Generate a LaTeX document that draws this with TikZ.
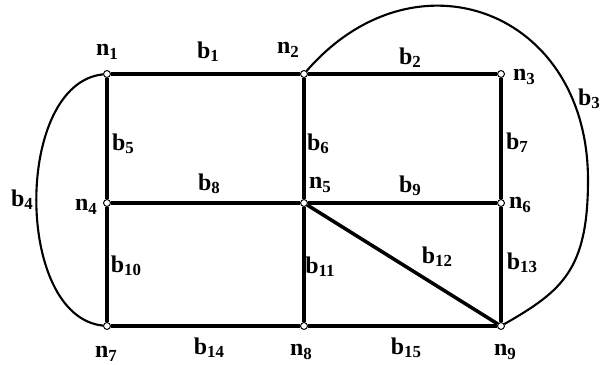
\documentclass[tikz,border=0pt]{standalone}
\usepackage{fontspec}
\setmainfont{Liberation Serif}
\usetikzlibrary{positioning}
\tikzset{
	junc/.style={circle, draw, fill=white, line width=0.6pt, inner sep=0pt, minimum size=0.17cm},
	wire/.style={line width=2.5pt},
	arcwire/.style={line width=1.5pt},
	lbl/.style={font=\fontsize{17}{20}\selectfont\bfseries, inner sep=0pt}
}
\newcommand{\idx}[2]{#1\raisebox{-0.3ex}{\fontsize{12}{12}\selectfont #2}}

\begin{document}
\begin{tikzpicture}[x=0.025cm, y=0.025cm]
		\useasboundingbox (0,0) rectangle (608,365);
		
		% 节点
		\node[junc] (n1) at (107,291) {};
		\node[junc] (n2) at (304,291) {};
		\node[junc] (n3) at (501,291) {};
		\node[junc] (n4) at (107,162) {};
		\node[junc] (n5) at (304,162) {};
		\node[junc] (n6) at (501,162) {};
		\node[junc] (n7) at (107,39) {};
		\node[junc] (n8) at (304,39) {};
		\node[junc] (n9) at (501,39) {};
		
		% 支路（直线）
		\draw[wire] (n1) -- (n2);
		\draw[wire] (n2) -- (n3);
		\draw[wire] (n4) -- (n5);
		\draw[wire] (n5) -- (n6);
		\draw[wire] (n7) -- (n8);
		\draw[wire] (n8) -- (n9);
		\draw[wire] (n1) -- (n4);
		\draw[wire] (n4) -- (n7);
		\draw[wire] (n2) -- (n5);
		\draw[wire] (n5) -- (n8);
		\draw[wire] (n3) -- (n6);
		\draw[wire] (n6) -- (n9);
		\draw[wire] (n5) -- (n9);
		
		% 支路（弧线）
		\draw[arcwire] (n1) .. controls (14,282) and (14,48) .. (n7);
		\draw[arcwire] (n2) .. controls (415,419) and (588,355) .. (588,185)
			.. controls (588,95) and (562,74) .. (n9);
		
		% 重画节点
		\foreach \k in {1,...,9}
			\node[junc] at (n\k) {};
		
		% 节点标号
		\node[lbl] (ln1) at (107,313) {\idx{n}{1}};
		\node[lbl] (ln2) at (288,315) {\idx{n}{2}};
		\node[lbl] (ln3) at (524,288) {\idx{n}{3}};
		\node[lbl] (ln4) at (86,158) {\idx{n}{4}};
		\node[lbl] (ln5) at (320,180) {\idx{n}{5}};
		\node[lbl] (ln6) at (520,160) {\idx{n}{6}};
		\node[lbl] (ln7) at (106,11) {\idx{n}{7}};
		\node[lbl] (ln8) at (301,13) {\idx{n}{8}};
		\node[lbl] (ln9) at (505,13) {\idx{n}{9}};
		
		% 支路标号
		\node[lbl] (lb1) at (208,313) {\idx{b}{1}};
		\node[lbl] (lb2) at (410,307) {\idx{b}{2}};
		\node[lbl] (lb3) at (589,266) {\idx{b}{3}};
		\node[lbl] (lb4) at (22,165) {\idx{b}{4}};
		\node[lbl] (lb5) at (123,221) {\idx{b}{5}};
		\node[lbl] (lb6) at (318,221) {\idx{b}{6}};
		\node[lbl] (lb7) at (517,222) {\idx{b}{7}};
		\node[lbl] (lb8) at (209,181) {\idx{b}{8}};
		\node[lbl] (lb9) at (410,179) {\idx{b}{9}};
		\node[lbl] (lb10) at (126,99) {\idx{b}{10}};
		\node[lbl] (lb11) at (320,98) {\idx{b}{11}};
		\node[lbl] (lb12) at (437,108) {\idx{b}{12}};
		\node[lbl] (lb13) at (522,102) {\idx{b}{13}};
		\node[lbl] (lb14) at (209,17) {\idx{b}{14}};
		\node[lbl] (lb15) at (406,17) {\idx{b}{15}};
	\end{tikzpicture}
\end{document}
